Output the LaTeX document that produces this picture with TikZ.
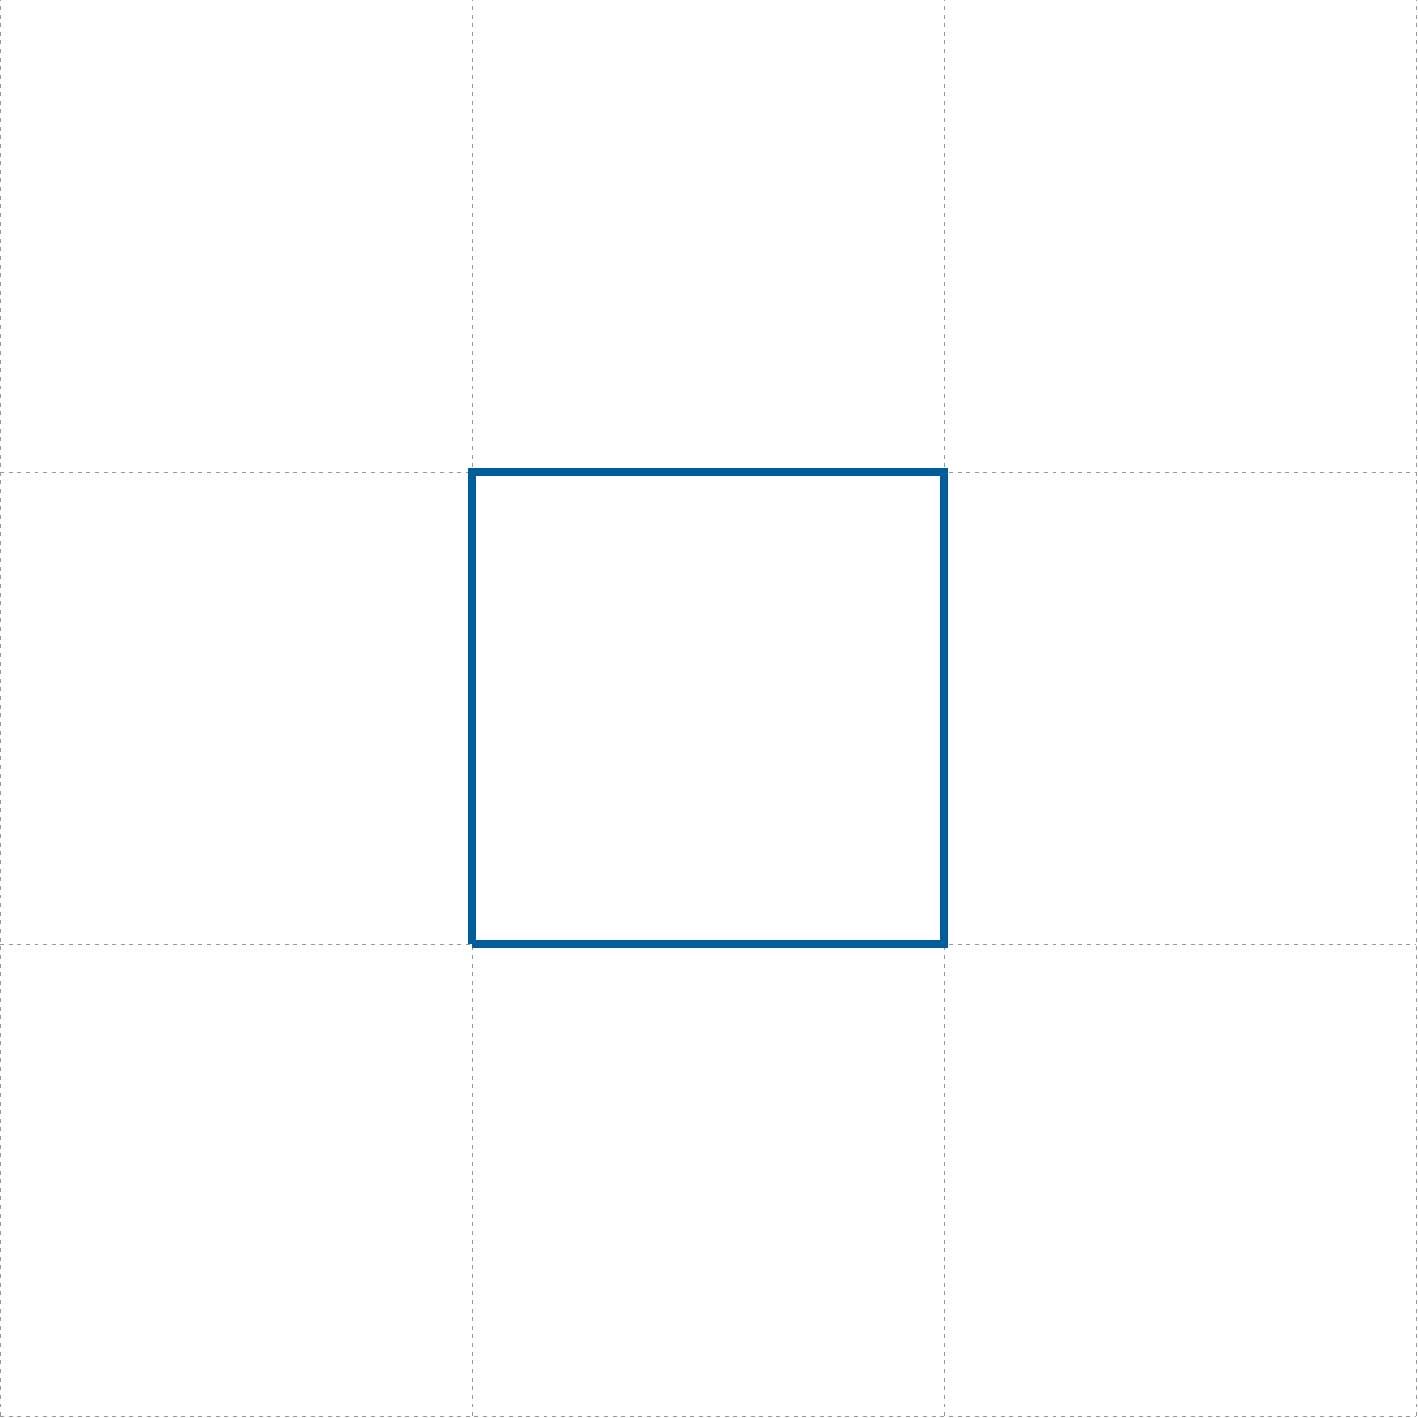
\documentclass[tikz,border=0pt]{standalone}
\usepackage{xcolor}
\definecolor{cellblue}{RGB}{0,94,154}
\begin{document}
\begin{tikzpicture}[x=5cm,y=5cm]
\def\n{3}
\useasboundingbox (0,-0.004) rectangle (\n+0.004,\n);
\tikzset{gridline/.style={gray!80,line width=0.3pt,dash pattern=on 1.2pt off 1.4pt}}
\foreach \i in {0,...,\n} {
  \draw[gridline] (\i,0)--(\i,\n);
  \draw[gridline] (0,\i)--(\n,\i);
}
\coordinate (A) at (1,1);
\coordinate (B) at (2,1);
\coordinate (C) at (2,2);
\coordinate (D) at (1,2);
\draw[cellblue,line width=2.4pt] (A)--(B)--(C)--(D)--(A);
\end{tikzpicture}
\end{document}
